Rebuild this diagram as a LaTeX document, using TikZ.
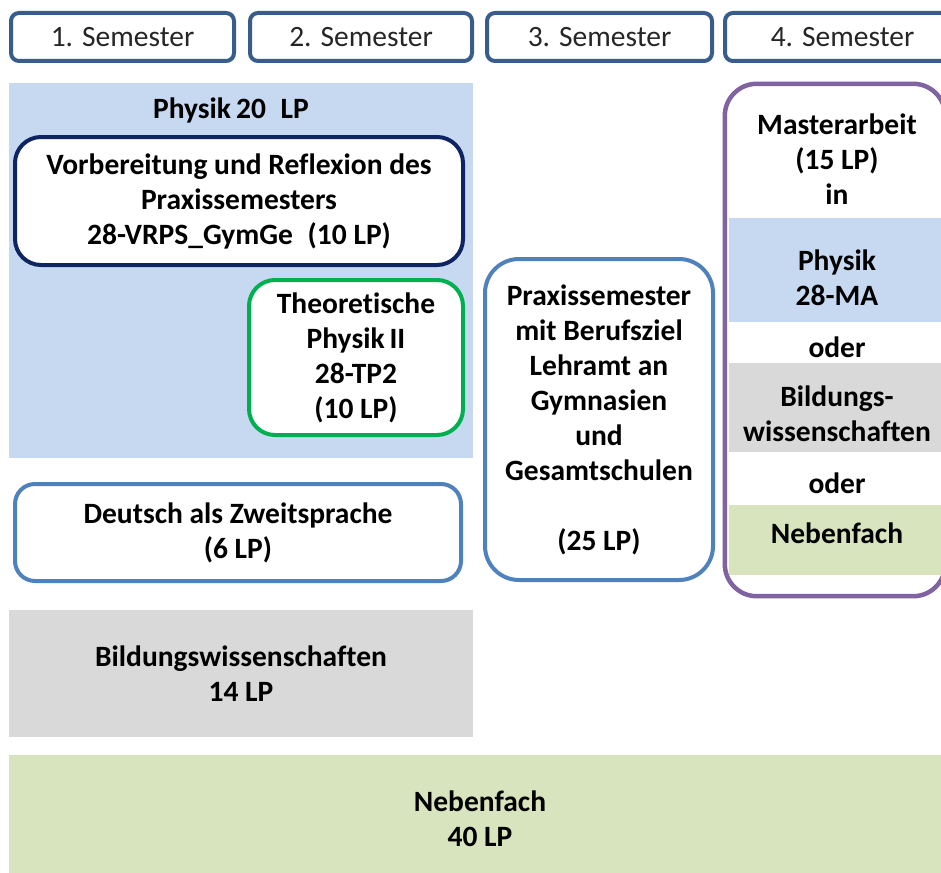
\documentclass[tikz,border=0pt]{standalone}
\usepackage{fontspec}
\setmainfont{Carlito}[Ligatures=NoCommon]
\definecolor{hdrblue}{HTML}{385D8A}
\definecolor{physblue}{HTML}{C6D9F1}
\definecolor{navy}{HTML}{0F2462}
\definecolor{tpgreen}{HTML}{00B050}
\definecolor{boxblue}{HTML}{4F81BD}
\definecolor{mapurple}{HTML}{8064A2}
\definecolor{bwgray}{HTML}{D9D9D9}
\definecolor{nfgreen}{HTML}{D7E4BD}
\begin{document}
\begin{tikzpicture}[x=1pt,y=-1pt,
  every node/.style={font=\fontsize{29.5}{35}\selectfont\bfseries, align=center, inner sep=0pt, text=black},
  hdr/.style={draw=hdrblue, line width=4pt, rounded corners=8pt, fill=white, minimum height=48pt, font=\fontsize{29.5}{35}\selectfont, text=black!85},
  area/.style={fill=#1, draw=none},
  modbox/.style={draw=#1, line width=4pt, rounded corners=26pt, fill=white},
  plain/.style={fill=none, draw=none}
]
\useasboundingbox (0,0) rectangle (941,872);
\clip (0,0) rectangle (941,872);

% semester headers
\node[hdr, minimum width=223pt] (s1) at (122.5,37) {1. Semester};
\node[hdr, minimum width=222pt] (s2) at (361,37) {2. Semester};
\node[hdr, minimum width=225pt] (s3) at (599.5,37) {3. Semester};
\node[hdr, minimum width=235pt] (s4) at (842.5,37) {4. Semester};

% Physik area
\node[area=physblue, minimum width=464pt, minimum height=375pt] (phys) at (241,270.5) {};
\node[plain] (physlbl) at (231,110) {Physik\,20\hspace{0.5em}LP};

\node[modbox=navy, minimum width=448pt, minimum height=128pt] (vrps) at (239,201)
  {Vorbereitung und Reflexion des\\Praxissemesters\\28-VRPS\_GymGe\hspace{0.5em}(10 LP)};
\node[modbox=tpgreen, minimum width=214pt, minimum height=155pt] (tp2) at (356,357.5)
  {Theoretische\\Physik\,II\\28-TP2\\(10 LP)};

% Deutsch als Zweitsprache
\node[modbox=boxblue, minimum width=446pt, minimum height=97pt, rounded corners=20pt] (daz) at (238,532.5)
  {Deutsch als Zweitsprache\\(6 LP)};

% Praxissemester
\node[modbox=boxblue, minimum width=228pt, minimum height=321pt, rounded corners=34pt] (prax) at (599,419.5)
  {Praxissemester\\mit Berufsziel\\Lehramt an\\Gymnasien\\und\\Gesamtschulen\\[35pt](25 LP)};

% Masterarbeit
\node[fill=white, draw=none, minimum width=220pt, minimum height=512pt, rounded corners=32pt] (ma) at (835,340) {};
\node[area=physblue, minimum width=216pt, minimum height=104pt] (maphys) at (837,270) {};
\node[area=bwgray, minimum width=216pt, minimum height=89pt] (mabw) at (837,407.5) {};
\node[area=nfgreen, minimum width=216pt, minimum height=70pt] (manf) at (837,540) {};
\draw[draw=mapurple, line width=4.5pt, rounded corners=32pt] (ma.north west) rectangle (ma.south east);
\node[plain] (matxt) at (837,159) {Masterarbeit\\(15 LP)\\in};
\node[plain] (maphystxt) at (837,278) {Physik\\28-MA};
\node[plain] (oder1) at (837,347) {oder};
\node[plain] (mabwtxt) at (837,414) {Bildungs-\\wissenschaften};
\node[plain] (oder2) at (837,483) {oder};
\node[plain] (manftxt) at (837,533) {Nebenfach};

% Bildungswissenschaften
\node[area=bwgray, minimum width=464pt, minimum height=127pt] (bw) at (241,673.5)
  {Bildungswissenschaften\\14 LP};

% Nebenfach
\node[area=nfgreen, minimum width=942pt, minimum height=127pt] (nf) at (480,818.5)
  {Nebenfach\\40 LP};
\end{tikzpicture}
\end{document}
